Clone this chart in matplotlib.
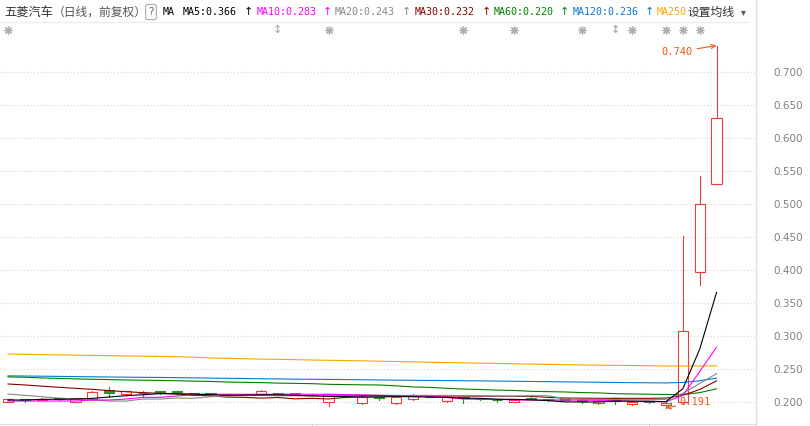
import matplotlib.pyplot as plt
from matplotlib.lines import Line2D
from matplotlib.patches import Rectangle

# daily candles, oldest first
opens = [0.2005, 0.2040, 0.2035, 0.2055, 0.2005, 0.2045, 0.2180, 0.2117, 0.2130, 0.2162,
         0.2160, 0.2106, 0.2137, 0.2115, 0.2110, 0.2117, 0.2106, 0.2121, 0.2110, 0.2005,
         0.2080, 0.1980, 0.2075, 0.1980, 0.2040, 0.2080, 0.2010, 0.2070, 0.2045, 0.2035,
         0.2005, 0.2065, 0.2040, 0.2055, 0.2025, 0.1980, 0.2055, 0.1965, 0.2015, 0.1955,
         0.2000, 0.3970, 0.5310]
highs = [0.2045, 0.2045, 0.2060, 0.2060, 0.2060, 0.2167, 0.2227, 0.2170, 0.2171, 0.2172,
         0.2165, 0.2135, 0.2140, 0.2125, 0.2115, 0.2180, 0.2140, 0.2140, 0.2115, 0.2120,
         0.2085, 0.2085, 0.2080, 0.2085, 0.2121, 0.2085, 0.2085, 0.2075, 0.2050, 0.2040,
         0.2035, 0.2070, 0.2045, 0.2060, 0.2030, 0.2020, 0.2060, 0.2010, 0.2020, 0.1995,
         0.4515, 0.5420, 0.7400]
lows = [0.2000, 0.1995, 0.2030, 0.2035, 0.2000, 0.2040, 0.2080, 0.2110, 0.2080, 0.2117,
        0.2117, 0.2100, 0.2110, 0.2105, 0.2100, 0.2110, 0.2100, 0.2115, 0.2095, 0.1944,
        0.2070, 0.1975, 0.2023, 0.1975, 0.2035, 0.2070, 0.2005, 0.1980, 0.2030, 0.2000,
        0.2000, 0.2040, 0.2020, 0.2025, 0.1990, 0.1975, 0.1970, 0.1960, 0.1990, 0.1910,
        0.1975, 0.3770, 0.5310]
closes = [0.2040, 0.2035, 0.2040, 0.2040, 0.2055, 0.2147, 0.2140, 0.2167, 0.2135, 0.2147,
          0.2155, 0.2132, 0.2117, 0.2120, 0.2106, 0.2167, 0.2137, 0.2137, 0.2100, 0.2115,
          0.2075, 0.2080, 0.2065, 0.2080, 0.2091, 0.2075, 0.2080, 0.2060, 0.2040, 0.2025,
          0.2030, 0.2045, 0.2030, 0.2030, 0.2010, 0.2015, 0.2015, 0.2005, 0.1995, 0.1990,
          0.3070, 0.5005, 0.6310]

ma5 = [0.2030, 0.2030, 0.2040, 0.2042, 0.2045, 0.2055, 0.2076, 0.2095, 0.2110, 0.2126,
       0.2125, 0.2120, 0.2112, 0.2100, 0.2105, 0.2108, 0.2110, 0.2100, 0.2095, 0.2085,
       0.2085, 0.2090, 0.2090, 0.2085, 0.2080, 0.2075, 0.2070, 0.2058, 0.2055, 0.2042,
       0.2040, 0.2032, 0.2022, 0.2002, 0.2000, 0.2000, 0.2014, 0.2014, 0.2012, 0.2005,
       0.2200, 0.2800, 0.3660]
ma10 = [0.2015, 0.2015, 0.2015, 0.2015, 0.2015, 0.2030, 0.2030, 0.2045, 0.2071, 0.2071,
        0.2091, 0.2110, 0.2117, 0.2117, 0.2117, 0.2117, 0.2117, 0.2117, 0.2117, 0.2117,
        0.2112, 0.2108, 0.2095, 0.2092, 0.2090, 0.2088, 0.2072, 0.2045, 0.2042, 0.2040,
        0.2032, 0.2030, 0.2030, 0.2030, 0.2028, 0.2026, 0.2022, 0.2008, 0.2005, 0.2003,
        0.2100, 0.2460, 0.2830]
ma20 = [0.2121, 0.2101, 0.2080, 0.2060, 0.2040, 0.2030, 0.2015, 0.2015, 0.2045, 0.2045,
        0.2060, 0.2056, 0.2080, 0.2095, 0.2100, 0.2100, 0.2095, 0.2095, 0.2090, 0.2095,
        0.2100, 0.2106, 0.2105, 0.2100, 0.2100, 0.2100, 0.2100, 0.2098, 0.2095, 0.2090,
        0.2090, 0.2095, 0.2095, 0.2050, 0.2040, 0.2040, 0.2038, 0.2036, 0.2035, 0.2040,
        0.2130, 0.2280, 0.2430]
ma30 = [0.2273, 0.2258, 0.2240, 0.2223, 0.2207, 0.2192, 0.2172, 0.2156, 0.2142, 0.2132,
        0.2121, 0.2106, 0.2092, 0.2075, 0.2070, 0.2058, 0.2068, 0.2048, 0.2056, 0.2046,
        0.2070, 0.2072, 0.2072, 0.2085, 0.2090, 0.2090, 0.2090, 0.2090, 0.2088, 0.2088,
        0.2086, 0.2086, 0.2070, 0.2060, 0.2058, 0.2056, 0.2056, 0.2056, 0.2056, 0.2060,
        0.2100, 0.2190, 0.2320]
ma60 = [0.2380, 0.2375, 0.2365, 0.2358, 0.2350, 0.2345, 0.2340, 0.2334, 0.2330, 0.2327,
        0.2323, 0.2316, 0.2312, 0.2302, 0.2298, 0.2294, 0.2286, 0.2282, 0.2278, 0.2268,
        0.2264, 0.2260, 0.2258, 0.2245, 0.2228, 0.2222, 0.2208, 0.2196, 0.2190, 0.2180,
        0.2175, 0.2162, 0.2157, 0.2152, 0.2143, 0.2138, 0.2126, 0.2122, 0.2118, 0.2114,
        0.2112, 0.2142, 0.2200]
ma120 = [0.2396, 0.2394, 0.2391, 0.2388, 0.2385, 0.2382, 0.2379, 0.2376, 0.2374, 0.2372,
         0.2369, 0.2366, 0.2362, 0.2359, 0.2356, 0.2352, 0.2349, 0.2346, 0.2344, 0.2342,
         0.2340, 0.2337, 0.2334, 0.2331, 0.2329, 0.2327, 0.2325, 0.2322, 0.2320, 0.2317,
         0.2314, 0.2311, 0.2308, 0.2305, 0.2302, 0.2299, 0.2296, 0.2293, 0.2291, 0.2289,
         0.2297, 0.2322, 0.2360]
ma250 = [0.2727, 0.2722, 0.2718, 0.2714, 0.2710, 0.2706, 0.2702, 0.2698, 0.2694, 0.2690,
         0.2686, 0.2680, 0.2668, 0.2662, 0.2656, 0.2650, 0.2646, 0.2642, 0.2636, 0.2632,
         0.2628, 0.2624, 0.2618, 0.2614, 0.2608, 0.2603, 0.2598, 0.2593, 0.2588, 0.2584,
         0.2579, 0.2574, 0.2570, 0.2566, 0.2562, 0.2558, 0.2555, 0.2552, 0.2549, 0.2546,
         0.2545, 0.2546, 0.2548]

ma_labels = ["MA5:0.366", "MA10:0.283", "MA20:0.243", "MA30:0.232", "MA60:0.220", "MA120:0.236", "MA250"]
ma_colors = ["#000000", "#ff00ff", "#888888", "#8b0000", "#008000", "#0a78d2", "#ffa500"]
ma_label_x = [183, 257, 335, 415, 494, 573, 657]
arrow_x = [244, 323, 402, 482, 560, 645]

star_days = [0, 19, 27, 30, 34, 37, 39, 40, 41]
updown_days = [16, 36]
month_ticks = [18, 38]
yticks = [0.20, 0.25, 0.30, 0.35, 0.40, 0.45, 0.50, 0.55, 0.60, 0.65, 0.70]
high_day, high_val = 42, 0.740
low_day, low_val = 39, 0.191

RED = "#ee3a3a"
GREEN = "#2f8f2f"
NOTE = "#f05a14"
W, H = 810, 426

fig = plt.figure(figsize=(W / 100, H / 100), dpi=100)
ax = fig.add_axes([0, 2 / H, 755 / W, 402 / H])
ax.set_xlim(-8 / 16.87, 747 / 16.87)
ax.set_ylim(0.2 - 22 / 660, 0.7 + 50 / 660)

for v in yticks:
    ax.axhline(v, color="#d4d4d4", lw=0.8, ls=(0, (1, 2)), zorder=0)

bw = 0.6
for i in range(len(opens)):
    o, h, l, c = opens[i], highs[i], lows[i], closes[i]
    if c >= o:
        ax.plot([i, i], [c, h], color=RED, lw=0.8, zorder=2)
        ax.plot([i, i], [l, o], color=RED, lw=0.8, zorder=2)
        ax.add_patch(Rectangle((i - bw / 2, o), bw, max(c - o, 0.0004), fc="white", ec=RED, lw=0.8, zorder=2))
    else:
        ax.plot([i, i], [l, h], color=GREEN, lw=0.8, zorder=2)
        ax.add_patch(Rectangle((i - bw / 2, c), bw, max(o - c, 0.0004), fc=GREEN, ec=GREEN, lw=0.8, zorder=2))

days = list(range(len(opens)))
for series, col in zip([ma250, ma120, ma60, ma30, ma20, ma10, ma5], ma_colors[::-1]):
    ax.plot(days, series, color=col, lw=0.8, zorder=3)

# event markers above the candles
star_y = 0.7 + 42 / 660
ax.scatter(star_days, [star_y] * len(star_days), marker=(8, 2, 0), s=28, color="#b0b0b0", lw=0.9, zorder=4)
ax.scatter(star_days, [star_y] * len(star_days), marker="o", s=6, color="#b0b0b0", zorder=4)
for d in updown_days:
    ax.text(d, star_y, "\u2195", color="#b0b0b0", fontsize=8, ha="center", va="center", fontweight="bold")

ax.annotate(f"{high_val:.3f}", xy=(high_day, high_val), xytext=(-17, -4.5), textcoords="offset points",
            ha="right", va="center", color=NOTE, fontsize=7.5, family="DejaVu Sans Mono",
            arrowprops=dict(arrowstyle="->", color=NOTE, lw=0.8, shrinkA=1, shrinkB=0))
ax.annotate(f"{low_val:.3f}", xy=(low_day, low_val), xytext=(10, 4.3), textcoords="offset points",
            ha="left", va="center", color=NOTE, fontsize=7.5, family="DejaVu Sans Mono",
            arrowprops=dict(arrowstyle="->", color=NOTE, lw=0.8, shrinkA=1, shrinkB=0))

ax.yaxis.tick_right()
ax.set_yticks(yticks)
ax.set_yticklabels([f"{v:.3f}" for v in yticks])
ax.tick_params(axis="y", length=0, pad=13, labelsize=7.5, labelcolor="#808080")
ax.set_xticks(month_ticks)
ax.set_xticklabels([])
ax.tick_params(axis="x", length=3, color="#cccccc")
for s in ["top", "left", "right"]:
    ax.spines[s].set_visible(False)
ax.spines["bottom"].set_color("#dddddd")

# header and frame lines
fig.add_artist(Line2D([756 / W, 756 / W], [0, 1], color="#e0e0e0", lw=1))
fig.add_artist(Line2D([0, 748 / W], [1 - 22 / H, 1 - 22 / H], color="#ececec", lw=1))

ty = 1 - 12 / H
cjk = ["Noto Sans CJK SC", "DejaVu Sans"]
fig.text(4 / W, ty, "五菱汽车", family=cjk, fontsize=8.8, color="#333333", va="center")
fig.text(53 / W, ty, "（日线，前复权）", family=cjk, fontsize=8.5, color="#555555", va="center")
fig.text(151 / W, ty, "?", fontsize=7.5, color="#666666", va="center", ha="center",
         bbox=dict(boxstyle="round,pad=0.25,rounding_size=0.2", fc="white", ec="#aaaaaa", lw=0.8))
fig.text(163 / W, ty, "MA", family="DejaVu Sans Mono", fontsize=7.2, color="#000000", va="center")
for lab, col, x in zip(ma_labels, ma_colors, ma_label_x):
    fig.text(x / W, ty, lab, family="DejaVu Sans Mono", fontsize=7.2, color=col, va="center")
for col, x in zip(ma_colors, arrow_x):
    fig.text(x / W, ty, "\u2191", fontsize=8, color=col, va="center")
fig.text(688 / W, ty, "设置均线", family=cjk, fontsize=8.5, color="#333333", va="center")
fig.text(741 / W, ty, "\u25be", fontsize=7, color="#555555", va="center")

fig.savefig("out.png", dpi=100)
